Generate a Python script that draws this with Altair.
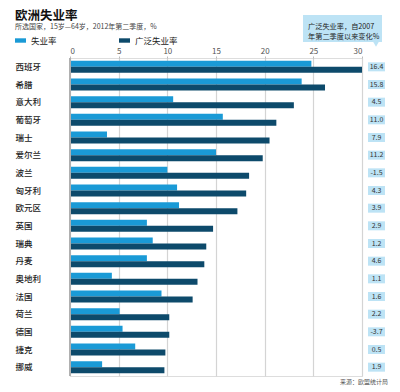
import altair as alt
import pandas as pd

countries = ["西班牙", "希腊", "意大利", "葡萄牙", "瑞士", "爱尔兰", "波兰", "匈牙利", "欧元区",
             "英国", "瑞典", "丹麦", "奥地利", "法国", "荷兰", "德国", "捷克", "挪威"]
unemployment = [24.8, 23.8, 10.6, 15.7, 3.8, 15.0, 10.0, 11.0, 11.2,
                7.9, 8.5, 7.9, 4.3, 9.4, 5.1, 5.4, 6.7, 3.3]
broad = [30.0, 26.2, 23.0, 21.2, 20.5, 19.8, 18.4, 18.1, 17.2,
         14.7, 14.0, 13.8, 13.1, 12.6, 10.2, 10.2, 9.8, 9.7]
change = ["16.4", "15.8", "4.5", "11.0", "7.9", "11.2", "-1.5", "4.3", "3.9",
          "2.9", "1.2", "4.6", "1.1", "1.6", "2.2", "-3.7", "0.5", "1.9"]
series = ["失业率", "广泛失业率"]
x_ticks = [0, 5, 10, 15, 20, 25, 30]

LIGHT = "#1a9ad6"
DARK = "#0d4a6b"
BOX = "#bde3f5"
FONT = "Noto Sans CJK SC"

rows = []
for c, u, b in zip(countries, unemployment, broad):
    rows.append({"country": c, "series": series[0], "value": u})
    rows.append({"country": c, "series": series[1], "value": b})
df = pd.DataFrame(rows)
df_change = pd.DataFrame({"country": countries, "change": change})

yscale = alt.Scale(domain=countries, paddingInner=0.32, paddingOuter=0.16)

bars = alt.Chart(df).mark_bar(cornerRadius=0).encode(
    x=alt.X("value:Q", scale=alt.Scale(domain=[0, 30], nice=False),
            axis=alt.Axis(orient="top", values=x_ticks, title=None, domain=False,
                          grid=True, gridColor="#d4d4d4", gridWidth=1.2,
                          tickSize=2, tickColor="#bbbbbb", labelPadding=1,
                          labelFontSize=8, labelColor="#555555", labelFont=FONT)),
    y=alt.Y("country:N", scale=yscale, sort=countries,
            axis=alt.Axis(title=None, ticks=False, domain=False, labelAlign="left",
                          labelPadding=55, labelFontSize=8.5, labelColor="#222222",
                          labelFont=FONT, labelFontWeight=500)),
    yOffset=alt.YOffset("series:N", sort=series, scale=alt.Scale(domain=series, paddingInner=0)),
    color=alt.Color("series:N", scale=alt.Scale(domain=series, range=[LIGHT, DARK]),
                    legend=alt.Legend(orient="none", legendX=-55, legendY=-23,
                                      direction="horizontal", title=None,
                                      symbolType="M-1,-0.4H1V0.4H-1Z", symbolSize=121,
                                      symbolStrokeWidth=0, labelFontSize=8.5,
                                      labelFont=FONT, labelColor="#222222",
                                      labelOffset=5, columnPadding=62)),
)

zero = alt.Chart(pd.DataFrame({"x": [0]})).mark_rule(color="#b0b0b0", strokeWidth=2).encode(
    x=alt.X("x:Q", scale=alt.Scale(domain=[0, 30], nice=False))
)

label_box = alt.Chart(df_change).mark_bar(color=BOX, height=9).encode(
    y=alt.Y("country:N", scale=yscale, sort=countries),
    x=alt.value(298), x2=alt.value(315),
)
label_text = alt.Chart(df_change).mark_text(fontSize=7, color="#333333", font=FONT).encode(
    y=alt.Y("country:N", scale=yscale, sort=countries),
    x=alt.value(306.5), text="change:N",
)

deco = pd.DataFrame({"a": [1]})
callout_box = alt.Chart(deco).mark_rect(color=BOX).encode(
    x=alt.value(233), x2=alt.value(312), y=alt.value(-43), y2=alt.value(-16)
)
callout_tip = alt.Chart(deco).mark_point(shape="triangle-down", filled=True, color=BOX,
                                          size=40, opacity=1).encode(
    x=alt.value(306), y=alt.value(-14)
)
callout_l1 = alt.Chart(deco).mark_text(text="广泛失业率，自2007", fontSize=7.2, align="left",
                                       baseline="middle", color="#222222", font=FONT).encode(
    x=alt.value(238), y=alt.value(-31.5))
callout_l2 = alt.Chart(deco).mark_text(text="年第二季度以来变化%", fontSize=7.2, align="left",
                                       baseline="middle", color="#222222", font=FONT).encode(
    x=alt.value(238), y=alt.value(-21))

title = alt.Chart(deco).mark_text(text="欧洲失业率", fontSize=12.5, fontWeight="bold",
                                  align="left", baseline="middle", color="#111111",
                                  font=FONT).encode(x=alt.value(-55), y=alt.value(-42.3))
subtitle = alt.Chart(deco).mark_text(text="所选国家，15岁—64岁，2012年第二季度，%", fontSize=7,
                                     align="left", baseline="middle", color="#444444",
                                     font=FONT).encode(x=alt.value(-55), y=alt.value(-31))
source = alt.Chart(deco).mark_text(text="来源：欧盟统计局", fontSize=6, align="right",
                                   baseline="middle", color="#555555",
                                   font=FONT).encode(x=alt.value(318), y=alt.value(324))

chart = alt.layer(
    bars, zero, label_box, label_text, callout_box, callout_tip, callout_l1, callout_l2,
    title, subtitle, source
).properties(
    width=292, height=318,
    autosize=alt.AutoSizeParams(type="none"),
    padding={"left": 62, "top": 50, "right": 30, "bottom": 14},
).configure_view(stroke=None).configure(background="white")

chart.save("out.html", embed_options={"renderer": "svg", "actions": False})
